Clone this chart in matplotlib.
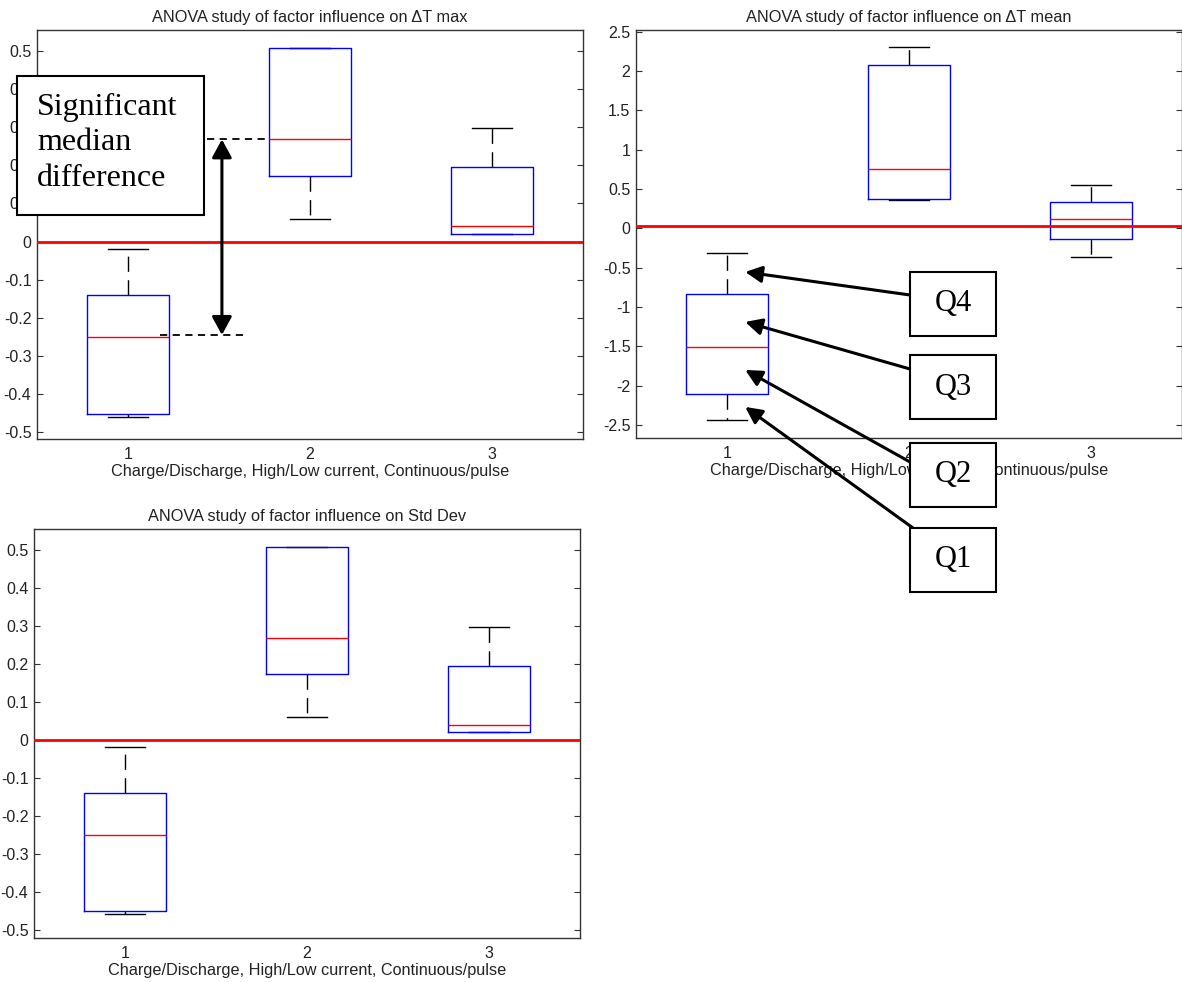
import matplotlib
matplotlib.use('Agg')
import matplotlib.pyplot as plt
from matplotlib.patches import Rectangle

# Box statistics
groups = [1, 2, 3]
group_labels = ['1', '2', '3']

max_whislo = [-0.46, 0.06, 0.02]
max_q1 = [-0.452, 0.173, 0.02]
max_med = [-0.251, 0.268, 0.04]
max_q3 = [-0.139, 0.509, 0.195]
max_whishi = [-0.019, 0.509, 0.299]

mean_whislo = [-2.43, 0.355, -0.365]
mean_q1 = [-2.105, 0.372, -0.14]
mean_med = [-1.51, 0.753, 0.118]
mean_q3 = [-0.835, 2.08, 0.33]
mean_whishi = [-0.32, 2.30, 0.55]

std_whislo = [-0.46, 0.06, 0.02]
std_q1 = [-0.452, 0.173, 0.02]
std_med = [-0.251, 0.268, 0.04]
std_q3 = [-0.139, 0.509, 0.195]
std_whishi = [-0.019, 0.509, 0.299]

ref_max = 0.0
ref_mean = 0.03
ref_std = 0.0

small_ticks = [-0.5, -0.4, -0.3, -0.2, -0.1, 0, 0.1, 0.2, 0.3, 0.4, 0.5]
small_labels = ['-0.5', '-0.4', '-0.3', '-0.2', '-0.1', '0', '0.1', '0.2', '0.3', '0.4', '0.5']
big_ticks = [-2.5, -2, -1.5, -1, -0.5, 0, 0.5, 1, 1.5, 2, 2.5]
big_labels = ['-2.5', '-2', '-1.5', '-1', '-0.5', '0', '0.5', '1', '1.5', '2', '2.5']

xlabel = 'Charge/Discharge, High/Low current, Continuous/pulse'
quartile_names = ['Q4', 'Q3', 'Q2', 'Q1']
quartile_targets = [-0.555, -1.19, -1.80, -2.27]

W, H = 1182, 982
plt.rcParams['font.family'] = ['Liberation Sans', 'DejaVu Sans']
fig = plt.figure(figsize=(W / 100, H / 100), dpi=100)


def frac(x, y):
    # pixel position (top-left origin) -> figure fraction
    return x / W, 1 - y / H


def make_axes(left, top, right, bottom):
    x0, y0 = frac(left, bottom)
    return fig.add_axes([x0, y0, (right - left) / W, (bottom - top) / H])


def panel(ax, title, lo, q1, med, q3, hi, ref, ticks, labels, ylim):
    stats = [dict(whislo=a, q1=b, med=c, q3=d, whishi=e, fliers=[])
             for a, b, c, d, e in zip(lo, q1, med, q3, hi)]
    ax.bxp(stats, positions=groups, widths=0.45, capwidths=0.22, showfliers=False,
           boxprops=dict(color='blue', lw=1, zorder=2.5),
           medianprops=dict(color='red', lw=1, zorder=2.6),
           whiskerprops=dict(color='black', lw=1, linestyle=(0, (11, 6))),
           capprops=dict(color='black', lw=1))
    ax.axhline(ref, color='red', lw=2, zorder=3)
    ax.set_xlim(0.5, 3.5)
    ax.set_ylim(*ylim)
    ax.set_xticks(groups)
    ax.set_xticklabels(group_labels)
    ax.set_yticks(ticks)
    ax.set_yticklabels(labels)
    ax.tick_params(axis='y', direction='in', length=4, left=True, right=True,
                   labelsize=11.5, pad=4, colors='#333333', labelcolor='#222222')
    ax.tick_params(axis='x', length=0, labelsize=11.5, pad=6, labelcolor='#222222')
    for s in ax.spines.values():
        s.set_color('#333333')
        s.set_linewidth(1.0)
    ax.set_title(title, fontsize=11.8, pad=6, color='#222222')
    ax.set_xlabel(xlabel, fontsize=11.7, labelpad=1.5, color='#222222')


ax1 = make_axes(37, 30, 583, 439)
ax2 = make_axes(636, 30, 1182, 438)
ax3 = make_axes(34, 529, 580, 938)

panel(ax1, 'ANOVA study of factor influence on \u0394T max',
      max_whislo, max_q1, max_med, max_q3, max_whishi, ref_max,
      small_ticks, small_labels, (-0.518, 0.555))
panel(ax2, 'ANOVA study of factor influence on \u0394T mean',
      mean_whislo, mean_q1, mean_med, mean_q3, mean_whishi, ref_mean,
      big_ticks, big_labels, (-2.665, 2.52))
panel(ax3, 'ANOVA study of factor influence on Std Dev',
      std_whislo, std_q1, std_med, std_q3, std_whishi, ref_std,
      small_ticks, small_labels, (-0.522, 0.556))

# median difference markers on the first panel
ax1.plot([1.434, 1.78], [max_med[1], max_med[1]], color='black', lw=1.3,
         linestyle=(0, (4, 3)), zorder=4)
ax1.plot([1.176, 1.654], [-0.245, -0.245], color='black', lw=1.3,
         linestyle=(0, (4, 3)), zorder=4)
ax1.annotate('', xy=(1.516, -0.245), xytext=(1.516, max_med[1]),
             arrowprops=dict(arrowstyle='<|-|>,head_length=0.55,head_width=0.3',
                             mutation_scale=20, lw=2.2, color='black',
                             shrinkA=0, shrinkB=0), zorder=5)

serif = ['Liberation Serif', 'DejaVu Serif']
x0, y0 = frac(17, 215)
fig.add_artist(Rectangle((x0, y0), (204 - 17) / W, (215 - 76) / H, transform=fig.transFigure,
                         facecolor='white', edgecolor='black', lw=1.5, zorder=5))
tx, ty = frac(37, 93)
fig.text(tx, ty, 'Significant\nmedian\ndifference', family=serif, fontsize=23,
         ha='left', va='top', linespacing=1.29, zorder=6)

# quartile call-outs on the second panel
box_tops = [272, 355, 443, 528]
tails = [(910, 295), (910, 369), (910, 462), (913, 528)]
for name, target, top, tail in zip(quartile_names, quartile_targets, box_tops, tails):
    ax2.annotate('', xy=(1.1, target), xycoords='data',
                 xytext=frac(*tail), textcoords='figure fraction',
                 arrowprops=dict(arrowstyle='-|>,head_length=0.5,head_width=0.25',
                                 mutation_scale=20, lw=2.2, color='black',
                                 shrinkA=0, shrinkB=0),
                 annotation_clip=False, zorder=5)
    bx, by = frac(910, top + 64)
    fig.add_artist(Rectangle((bx, by), 86 / W, 64 / H, transform=fig.transFigure,
                             facecolor='white', edgecolor='black', lw=1.5, zorder=5))
    cx, cy = frac(953, top + 32)
    fig.text(cx, cy, name, family=serif, fontsize=22, ha='center', va='center', zorder=6)

fig.savefig('out.png', dpi=100)
